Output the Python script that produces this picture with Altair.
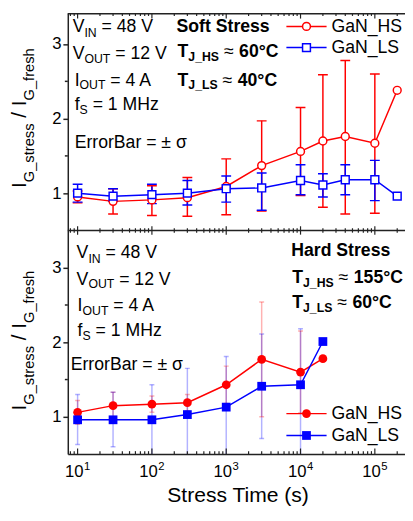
import altair as alt
import pandas as pd

FONT = "Liberation Sans"
RED = "#ff0000"
BLUE = "#0000ff"
AXC = "#222222"

# ---------------- data ----------------
series_names = ["GaN_HS", "GaN_LS"]

soft_time = [10, 30, 100, 300, 1000, 3000, 10000, 20000, 40000, 100000, 200000]
soft_hs = [0.95, 0.89, 0.91, 0.94, 1.09, 1.37, 1.56, 1.70, 1.76, 1.67, 2.38]
soft_hs_lo = [0.87, 0.72, 0.70, 0.69, 0.71, 0.76, 0.97, 0.81, 0.72, 0.73, None]
soft_hs_hi = [1.03, 1.06, 1.10, 1.21, 1.46, 1.97, 2.15, 2.59, 2.78, 2.60, None]
soft_ls = [1.00, 0.96, 0.98, 1.00, 1.06, 1.07, 1.17, 1.11, 1.18, 1.18, 0.96]
soft_ls_lo = [0.88, 0.89, 0.86, 0.84, 0.88, 0.77, 0.98, 0.95, 0.98, 0.90, None]
soft_ls_hi = [1.12, 1.06, 1.12, 1.17, 1.23, 1.27, 1.38, 1.26, 1.38, 1.44, None]

hard_time = [10, 30, 100, 300, 1000, 3000, 10000, 20000]
hard_hs = [1.06, 1.15, 1.17, 1.19, 1.43, 1.77, 1.60, 1.78]
hard_hs_lo = [0.90, 0.97, 1.06, 1.08, 1.18, 1.00, 1.05, None]
hard_hs_hi = [1.22, 1.33, 1.28, 1.30, 1.68, 2.54, 2.15, None]
hard_ls = [0.96, 0.96, 0.96, 1.03, 1.13, 1.41, 1.43, 2.01]
hard_ls_lo = [0.63, 0.60, 0.48, 0.41, 0.45, 0.71, 0.45, None]
hard_ls_hi = [1.30, 1.33, 1.43, 1.65, 1.81, 2.11, 2.18, None]

x_major = [10, 100, 1000, 10000, 100000]
x_tick_base = ["10", "10", "10", "10", "10"]
x_tick_exp = ["1", "2", "3", "4", "5"]
y_tick_values = [1, 2, 3]
y_minor_values = [1.5, 2.5]

# ---------------- layout ----------------
W, H = 344, 450
PX0, PY0 = 69, 8
X_DOMAIN = [7.38, 2.546e5]
Y_DOMAIN = [0.5, 6.417]
SHIFT = 3  # top (soft) panel is drawn shifted by 3 on the shared y scale
Y_MID = (Y_DOMAIN[1] - 3.5) / (Y_DOMAIN[1] - Y_DOMAIN[0]) * H

rows = []


def add(panel, series, ts, vs, los, his):
    for t, v, lo, hi in zip(ts, vs, los, his):
        rows.append(dict(panel=panel, series=series, t=t, v=v, lo=lo, hi=hi))


add("soft", "GaN_HS", soft_time, soft_hs, soft_hs_lo, soft_hs_hi)
add("soft", "GaN_LS", soft_time, soft_ls, soft_ls_lo, soft_ls_hi)
add("hard", "GaN_HS", hard_time, hard_hs, hard_hs_lo, hard_hs_hi)
add("hard", "GaN_LS", hard_time, hard_ls, hard_ls_lo, hard_ls_hi)
df = pd.DataFrame(rows)

xs = alt.Scale(type="log", domain=X_DOMAIN, nice=False)
ys = alt.Scale(domain=Y_DOMAIN, nice=False, zero=False)
cs = alt.Scale(domain=series_names, range=[RED, BLUE])
shapes = alt.Scale(domain=series_names, range=["circle", "square"])

off = f"(datum.panel == 'soft' ? {SHIFT} : 0)"
base = alt.Chart(df).transform_calculate(
    y=f"datum.v + {off}",
    ylo=f"isValid(datum.lo) ? datum.lo + {off} : null",
    yhi=f"isValid(datum.hi) ? datum.hi + {off} : null",
)

x_axis = alt.Axis(values=x_major, labels=False, ticks=False, tickSize=0, grid=False,
                  domainColor=AXC, domainWidth=1.5, title=None, orient="bottom")
y_vals = y_tick_values + [v + SHIFT for v in y_tick_values]
y_axis = alt.Axis(values=y_vals, labelExpr=f"datum.value > 3.5 ? datum.value - {SHIFT} : datum.value",
                  tickSize=5, tickWidth=1.5, tickColor=AXC, grid=False, domainColor=AXC,
                  domainWidth=1.5, labelFont=FONT, labelFontSize=17, labelColor="black",
                  labelPadding=2, title=None, orient="left")


def XE(field):
    return alt.X(field, scale=xs, axis=x_axis)


def YE(field):
    return alt.Y(field, scale=ys, axis=y_axis)


C = alt.Color("series:N", scale=cs, legend=None)

layers = []

# lines (first, carry the axes)
layers.append(base.mark_line(strokeWidth=1.5).encode(
    x=XE("t:Q"), y=YE("y:Q"), color=C, detail="panel:N"))

# error bars
for panel, op, cap in [("soft", 1.0, 10), ("hard", 0.3, 5)]:
    eb = base.transform_filter(f"datum.panel == '{panel}' && isValid(datum.lo)")
    layers.append(eb.mark_rule(strokeWidth=1.5, opacity=op, clip=True).encode(
        x=XE("t:Q"), y=YE("ylo:Q"), y2="yhi:Q", color=C))
    for f in ["ylo", "yhi"]:
        layers.append(eb.mark_tick(orient="horizontal", size=cap, thickness=1.5, opacity=op, clip=True).encode(
            x=XE("t:Q"), y=YE(f"{f}:Q"), color=C))

# markers
layers.append(base.transform_filter("datum.panel == 'soft'").mark_point(
    filled=False, fill="white", fillOpacity=1, opacity=1, size=64, strokeWidth=1.5).encode(
    x=XE("t:Q"), y=YE("y:Q"), stroke=alt.Stroke("series:N", scale=cs, legend=None),
    shape=alt.Shape("series:N", scale=shapes, legend=None)))
layers.append(base.transform_filter("datum.panel == 'hard'").mark_point(
    filled=True, opacity=1, size=80).encode(
    x=XE("t:Q"), y=YE("y:Q"), color=C, shape=alt.Shape("series:N", scale=shapes, legend=None)))

# frame: divider and top line
layers.append(alt.Chart(pd.DataFrame({"yv": [3.5]})).mark_rule(color=AXC, strokeWidth=1.5).encode(
    y=YE("yv:Q"), x=alt.value(0), x2=alt.value(W)))
layers.append(alt.Chart(pd.DataFrame({"k": [0]})).mark_rule(color=AXC, strokeWidth=1.5).encode(
    y=alt.value(0.75), x=alt.value(0), x2=alt.value(W)))

# manual x ticks (inward)
x_minor = [m * 10 ** k for k in range(0, 6) for m in range(2, 10)
           if X_DOMAIN[0] <= m * 10 ** k <= X_DOMAIN[1]]
tick_major = pd.DataFrame({"tv": x_major, "base": x_tick_base, "exp": x_tick_exp})
tick_minor = pd.DataFrame({"tv": x_minor})
for tdf, ln in [(tick_major, 5.7), (tick_minor, 3)]:
    for y1, y2 in [(H, H - ln), (0, ln), (Y_MID - ln * 0.75, Y_MID + ln * 0.75)]:
        layers.append(alt.Chart(tdf).mark_rule(color=AXC, strokeWidth=1.2).encode(
            x=XE("tv:Q"), y=alt.value(y1), y2=alt.value(y2)))

# x tick labels: 10 with superscript exponent
layers.append(alt.Chart(tick_major).mark_text(
    font=FONT, fontSize=17, align="right", baseline="alphabetic", dx=6, color="black").encode(
    x=XE("tv:Q"), y=alt.value(481 - PY0), text="base:N"))
layers.append(alt.Chart(tick_major).mark_text(
    font=FONT, fontSize=11.5, align="left", baseline="alphabetic", dx=6.5, color="black").encode(
    x=XE("tv:Q"), y=alt.value(474.5 - PY0), text="exp:N"))

# minor y ticks
ymin = pd.DataFrame({"yv": y_minor_values + [v + SHIFT for v in y_minor_values]})
layers.append(alt.Chart(ymin).mark_rule(color=AXC, strokeWidth=1.5).encode(
    y=YE("yv:Q"), x=alt.value(-3), x2=alt.value(0)))

# ---------------- annotations ----------------
ONE = pd.DataFrame({"k": [0]})

WREG = {" ": 278, "=": 584, "V": 667, "I": 278, "N": 722, "O": 778, "U": 722, "T": 611,
        "A": 667, "f": 278, "S": 667, "M": 833, "H": 722, "z": 500, "E": 667, "r": 333,
        "o": 556, "B": 667, "a": 556, "\u00b1": 584, "\u03c3": 570, "\u2248": 584, "G": 778,
        "_": 556, "s": 500, "t": 278, "e": 556, "h": 556, "J": 500, "L": 556, "C": 722,
        "\u00b0": 400, "/": 278}
WBOLD = {" ": 278, "S": 667, "o": 611, "f": 333, "t": 333, "r": 389, "e": 556, "s": 556,
         "T": 611, "J": 556, "_": 556, "H": 722, "L": 611, "\u00b0": 400, "C": 722, "a": 556,
         "d": 611}


def tw(s, size, bold):
    tab = WBOLD if bold else WREG
    return sum(tab.get(c, 556) for c in s) / 1000 * size


def text_at(s, x, y, size, bold=False, angle=None, align="left"):
    kw = dict(text=s, font=FONT, fontSize=size, fontWeight="bold" if bold else "normal",
              align=align, baseline="alphabetic", color="black")
    if angle is not None:
        kw["angle"] = angle
    return alt.Chart(ONE).mark_text(**kw).encode(x=alt.value(x - PX0), y=alt.value(y - PY0))


def rich(pieces, x0, y0):
    out = []
    x = x0
    for s, size, bold, dy in pieces:
        lead = len(s) - len(s.lstrip(" "))
        x += tw(" " * lead, size, bold)
        core = s.strip(" ")
        out.append(text_at(core, x, y0 + dy, size, bold))
        x += tw(s[lead:], size, bold)
    return out


def rich_v(pieces, xb, y0):
    out = []
    y = y0
    for s, size, bold, dx in pieces:
        lead = len(s) - len(s.lstrip(" "))
        y -= tw(" " * lead, size, bold)
        core = s.strip(" ")
        out.append(text_at(core, xb + dx, y, size, bold, angle=270))
        y -= tw(s[lead:], size, bold)
    return out


B, S = 18, 12.5


def cond_block(xs_, bases, err_x, err_y):
    out = []
    out += rich([("V", B, False, 0), ("IN", S, False, 5), (" = 48 V", B, False, 0)], xs_[0], bases[0])
    out += rich([("V", B, False, 0), ("OUT", S, False, 4), (" = 12 V", B, False, 0)], xs_[0], bases[1])
    out += rich([("I", B, False, 0), ("OUT", S, False, 4), (" = 4 A", B, False, 0)], xs_[1], bases[2])
    out += rich([("f", B, False, 0), ("S", S, False, 4), (" = 1 MHz", B, False, 0)], xs_[1], bases[3])
    out += rich([("ErrorBar = \u00b1 \u03c3", B, False, 0)], err_x, err_y)
    return out


def stress_block(title, ths, tls, x0, bases):
    out = [text_at(title, x0, bases[0], B, True)]
    out += rich([("T", B, True, 0), ("J_HS", S, True, 4), (" \u2248 ", B, False, 0), (ths, B, True, 0)],
                x0 + 1, bases[1])
    out += rich([("T", B, True, 0), ("J_LS", S, True, 4), (" \u2248 ", B, False, 0), (tls, B, True, 0)],
                x0 + 1, bases[2])
    return out


def legend_block(yh, yl, filled, size):
    out = []
    for name, yy, col, shp in [("GaN_HS", yh, RED, "circle"), ("GaN_LS", yl, BLUE, "square")]:
        out.append(alt.Chart(ONE).mark_rule(color=col, strokeWidth=1.5).encode(
            x=alt.value(292 - PX0), x2=alt.value(333 - PX0), y=alt.value(yy - PY0)))
        if filled:
            mk = alt.Chart(ONE).mark_point(shape=shp, filled=True, color=col, opacity=1, size=size)
        else:
            mk = alt.Chart(ONE).mark_point(shape=shp, filled=False, fill="white", fillOpacity=1,
                                           stroke=col, opacity=1, size=size, strokeWidth=1.5)
        out.append(mk.encode(x=alt.value(312.5 - PX0), y=alt.value(yy - PY0)))
        out.append(text_at(name, 338, yy + 5.3, B))
    return out


ann = []
ann += cond_block((74, 76), (27, 55, 82, 107.3), 76, 145.7)
ann += stress_block("Soft Stress", "60\u00b0C", "40\u00b0C", 180, (27, 53, 82))
ann += legend_block(21.7, 43.3, False, 64)
ann += cond_block((78, 79), (258, 285, 311.7, 337.3), 72, 371.7)
ann += stress_block("Hard Stress", "155\u00b0C", "60\u00b0C", 297, (256, 283.3, 309.3))
ann += legend_block(416.7, 439, True, 80)

ytitle = [("I", 21, False, 0), ("G_stress", 15, False, 8), (" / ", 21, False, 0),
          ("I", 21, False, 0), ("G_fresh", 15, False, 8)]
ann += rich_v(ytitle, 26.7, 186.5)
ann += rich_v(ytitle, 26.7, 413.5)
ann.append(text_at("Stress Time (s)", 242.7, 506.5, 21.5, align="center"))

chart = alt.layer(*layers, *ann).properties(
    width=W, height=H,
    autosize=alt.AutoSizeParams(type="none"),
    padding={"left": PX0 - 8, "top": PY0 - 8, "right": 0, "bottom": 55},
).configure_view(stroke=None).configure_axis(grid=False)

chart.save("out.html", embed_options={"renderer": "svg", "actions": False})
